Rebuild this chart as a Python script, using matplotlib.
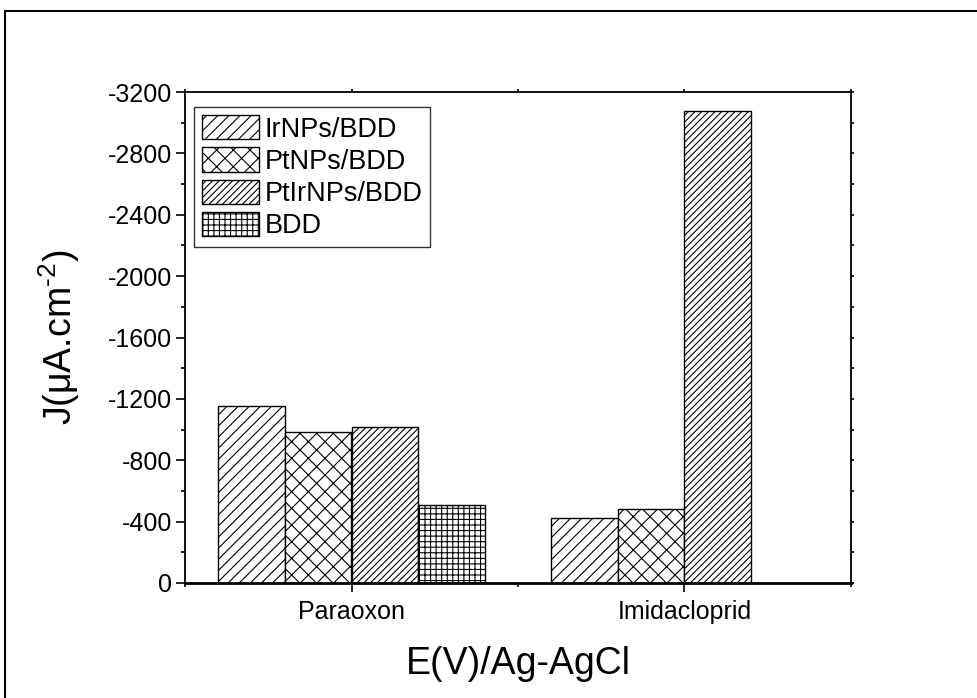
import numpy as np
import matplotlib
matplotlib.use("Agg")
import matplotlib.pyplot as plt
from matplotlib.patches import Rectangle
from matplotlib.ticker import MultipleLocator

plt.rcParams['font.family']=['Liberation Sans','DejaVu Sans']
plt.rcParams['axes.unicode_minus']=False
plt.rcParams['hatch.linewidth']=0.8
plt.rcParams['mathtext.fontset']='custom'
plt.rcParams['mathtext.rm']='Liberation Sans'
plt.rcParams['mathtext.it']='Liberation Sans'

# data
categories=["Paraoxon","Imidacloprid"]
series=["IrNPs/BDD","PtNPs/BDD","PtIrNPs/BDD","BDD"]
ir_bdd=[-1155,-426]
pt_bdd=[-982,-482]
ptir_bdd=[-1015,-3077]
bdd=[-506,0]

values=[ir_bdd,pt_bdd,ptir_bdd,bdd]
hatches=["///","xx","/////","+++"]

fig=plt.figure(figsize=(9.78,6.98),dpi=100)
ax=fig.add_axes([185/978,1-583/698,666/978,491/698])

x=np.arange(1,len(categories)+1)
width=0.2

for i,(name,vals) in enumerate(zip(series,values)):
    offs=(i-1.5)*width
    ax.bar(
        x+offs,
        vals,
        width,
        label=name,
        facecolor="white",
        edgecolor="black",
        hatch=hatches[i],
        linewidth=1.0
    )

ax.set_xlim(0.5,2.5)
ax.set_ylim(0,-3200)

ax.set_xticks(x)
ax.set_xticklabels(categories)
ax.xaxis.set_minor_locator(MultipleLocator(0.5))
ax.yaxis.set_major_locator(MultipleLocator(400))
ax.yaxis.set_minor_locator(MultipleLocator(200))

ax.tick_params(axis="both",which="major",direction="out",length=6.5,width=1.2,labelsize=18)
ax.tick_params(axis="both",which="minor",direction="out",length=3,width=1.2)
ax.tick_params(axis="y",which="both",pad=3)
ax.tick_params(axis="x",which="both",pad=6)
ax.tick_params(top=True,right=True,which="both")
for t in ax.xaxis.get_major_ticks()+ax.xaxis.get_minor_ticks():
    t.tick2line.set_markersize(2)
for t in ax.yaxis.get_major_ticks()+ax.yaxis.get_minor_ticks():
    t.tick2line.set_markersize(2)

for s in ax.spines.values():
    s.set_linewidth(1.3)
ax.spines["bottom"].set_linewidth(2)

ax.set_xlabel("E(V)/Ag-AgCl",fontsize=27)
ax.xaxis.set_label_coords(0.5,-0.128)
ax.set_ylabel(r"J(μA.cm$^{\text{-2}}$)",fontsize=27)
ax.yaxis.set_label_coords(-0.155,0.5)

leg=ax.legend(
    loc="upper left",
    bbox_to_anchor=(194/978,1-107/698),
    bbox_transform=fig.transFigure,
    fontsize=19.5,
    frameon=True,
    fancybox=False,
    borderaxespad=0,
    borderpad=0.3,
    handlelength=2.1,
    handleheight=1.0,
    handletextpad=0.2,
    labelspacing=0.18
)
leg.get_frame().set_edgecolor("black")
leg.get_frame().set_linewidth(1.0)

# outer frame around the figure
fig.patches.append(Rectangle(
    (5/978,-0.1),
    1.2,
    1.1-11/698,
    transform=fig.transFigure,
    fill=False,
    edgecolor="black",
    linewidth=1.5
))

fig.savefig("out.png",dpi=100)
